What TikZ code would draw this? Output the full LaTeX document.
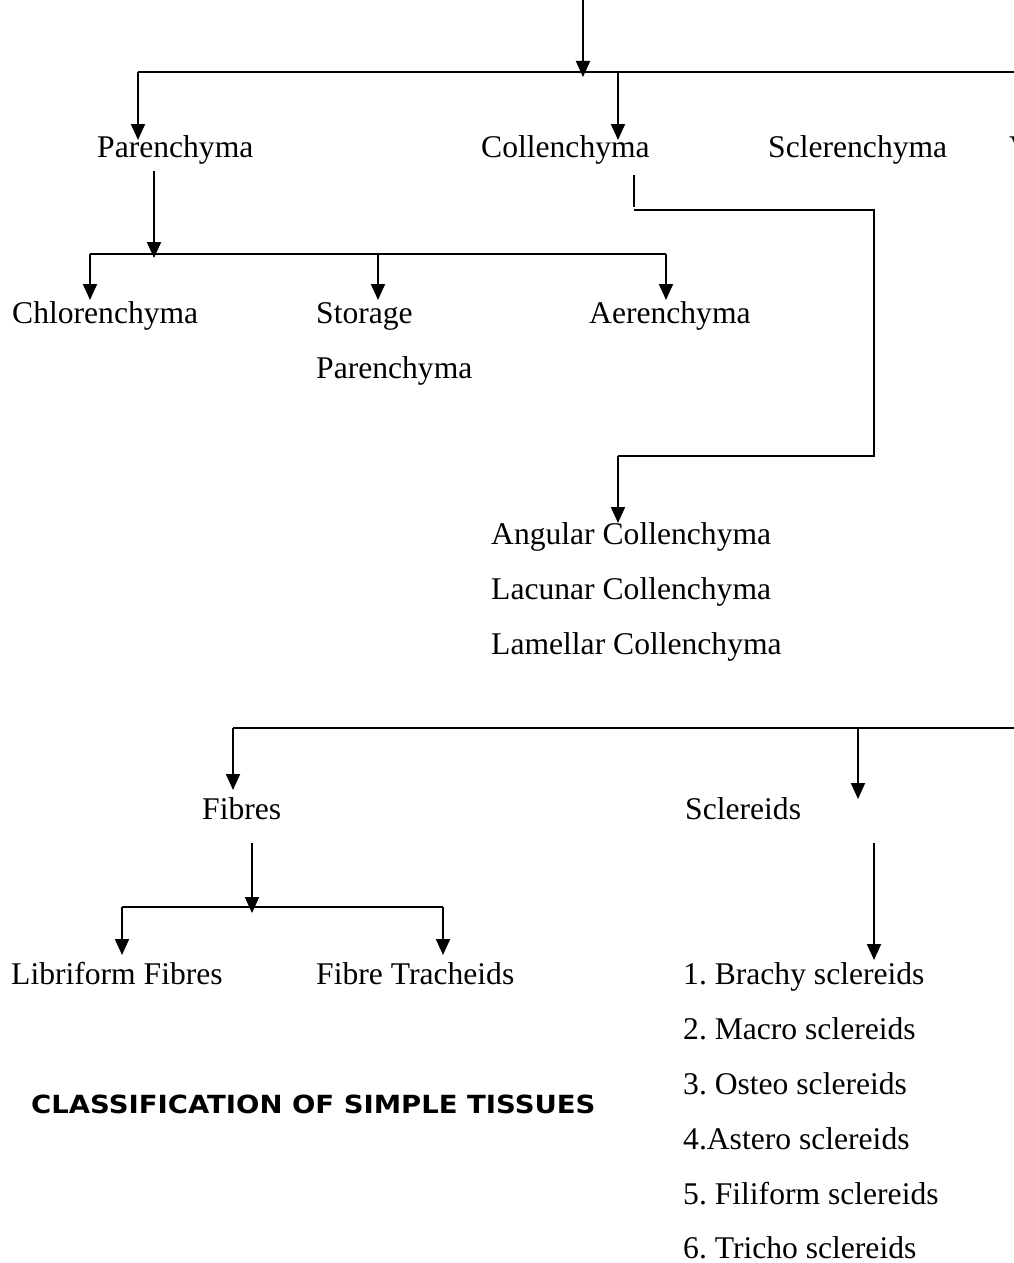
\documentclass[tikz,border=0pt]{standalone}
\usepackage{fontspec}
\setmainfont{Liberation Serif}
\newfontfamily\headfont[FakeStretch=1.1]{DejaVu Sans}
\usetikzlibrary{arrows.meta}
\frenchspacing
\begin{document}
\begin{tikzpicture}[x=1pt,y=-1pt,
  lbl/.style={anchor=base west, inner sep=0pt, font=\fontsize{31.6}{38}\selectfont},
  link/.style={line width=2pt},
  thinlink/.style={line width=1.5pt},
  arr/.style={line width=2pt,-{Triangle[width=14pt,length=16pt]}},
]
\useasboundingbox (0,0) rectangle (1014,1263);

% ---- tissue names ----
\node[lbl] (par)  at (97,157)  {Parenchyma};
\node[lbl] (col)  at (481,157) {Collenchyma};
\node[lbl] (scl)  at (768,157) {Sclerenchyma};
\begin{scope}
  \clip (0,0) rectangle (1014,1263);
  \node[lbl] (vas) at (1009,157) {V};
\end{scope}

\node[lbl] (chl)  at (12,323)  {Chlorenchyma};
\node[lbl] (sto)  at (316,323) {Storage};
\node[lbl] (sto2) at (316,378) {Parenchyma};
\node[lbl] (aer)  at (589,323) {Aerenchyma};

\node[lbl] (ang)  at (491,544) {Angular Collenchyma};
\node[lbl] (lac)  at (491,599) {Lacunar Collenchyma};
\node[lbl] (lam)  at (491,654) {Lamellar Collenchyma};

\node[lbl] (fib)  at (202,819) {Fibres};
\node[lbl] (scd)  at (685,819) {Sclereids};

\node[lbl] (lib)  at (11,984)  {Libriform Fibres};
\node[lbl] (ftr)  at (316,984) {Fibre Tracheids};

\node[lbl] (s1) at (683,984)  {1. Brachy sclereids};
\node[lbl] (s2) at (683,1039) {2. Macro sclereids};
\node[lbl] (s3) at (683,1094) {3. Osteo sclereids};
\node[lbl] (s4) at (683,1149) {4.Astero sclereids};
\node[lbl] (s5) at (683,1204) {5. Filiform sclereids};
\node[lbl, text depth=0pt] (s6) at (683,1258) {6. Tricho sclereids};

\node[anchor=base west, inner sep=0pt,
      font=\headfont\bfseries\fontsize{25}{30}\selectfont]
      (title) at (31,1113) {CLASSIFICATION OF SIMPLE TISSUES};

% ---- junction points ----
\coordinate (top)    at (583,0);
\coordinate (topin)  at (583,77);
\coordinate (busAl)  at (138,72);
\coordinate (busAr)  at (1014,72);
\coordinate (busAc)  at (618,72);
\coordinate (parin)  at (138,140);
\coordinate (colin)  at (618,140);

\coordinate (parout) at (154,171);
\coordinate (busBm)  at (154,258);
\coordinate (busBl)  at (90,254);
\coordinate (busBc)  at (378,254);
\coordinate (busBr)  at (666,254);
\coordinate (chlin)  at (90,300);
\coordinate (stoin)  at (378,300);
\coordinate (aerin)  at (666,300);

\coordinate (colout) at (634,175);
\coordinate (colc1)  at (634,210);
\coordinate (colc2)  at (874,210);
\coordinate (colc3)  at (874,456);
\coordinate (colc4)  at (618,456);
\coordinate (angin)  at (618,523);

\coordinate (busCl)  at (233,728);
\coordinate (busCr)  at (1014,728);
\coordinate (busCs)  at (858,728);
\coordinate (fibin)  at (233,790);
\coordinate (scdin)  at (858,799);

\coordinate (fibout) at (252,843);
\coordinate (busDm)  at (252,913);
\coordinate (busDl)  at (122,907);
\coordinate (busDr)  at (443,907);
\coordinate (libin)  at (122,955);
\coordinate (ftrin)  at (443,955);

\coordinate (scdout) at (874,843);
\coordinate (s1in)   at (874,960);

% ---- connectors ----
\draw[arr]  (top) -- (topin);
\draw[link] (busAl) -- (busAr);
\draw[arr]  (busAl) -- (parin);
\draw[arr]  (busAc) -- (colin);

\draw[arr]  (parout) -- (busBm);
\draw[link] (busBl) -- (busBr);
\draw[arr]  (busBl) -- (chlin);
\draw[arr]  (busBc) -- (stoin);
\draw[arr]  (busBr) -- (aerin);

\draw[thinlink] (colout) -- ([yshift=3pt]colc1);
\draw[thinlink] (colc1) -- (colc2) -- (colc3) -- (colc4);
\draw[arr]  (colc4) -- (angin);

\draw[link] (busCl) -- (busCr);
\draw[arr]  (busCl) -- (fibin);
\draw[arr]  (busCs) -- (scdin);

\draw[arr]  (fibout) -- (busDm);
\draw[link] (busDl) -- (busDr);
\draw[arr]  (busDl) -- (libin);
\draw[arr]  (busDr) -- (ftrin);

\draw[arr]  (scdout) -- (s1in);
\end{tikzpicture}
\end{document}
